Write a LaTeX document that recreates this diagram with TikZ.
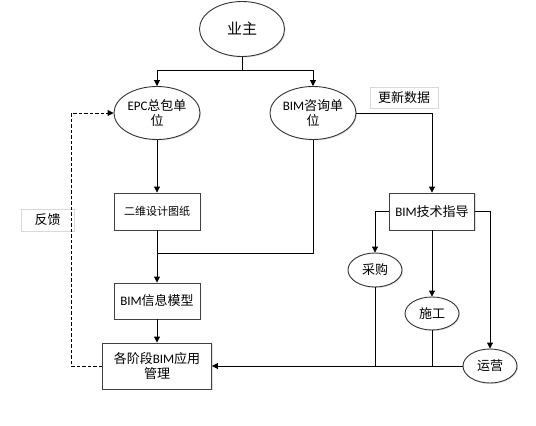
\documentclass[tikz,border=0pt]{standalone}
\usepackage{fontspec}
\setmainfont{Noto Sans CJK SC}
\newfontfamily\lat{Carlito}
\usetikzlibrary{shapes.geometric,arrows.meta,shadows}
\begin{document}
\begin{tikzpicture}[x=1pt,y=-1pt,
  line width=0.9pt,
  every node/.style={inner sep=0pt,font=\fontsize{13}{15}\selectfont,align=center},
  ell/.style={ellipse,draw=black!80,fill=white,drop shadow={shadow xshift=1pt,shadow yshift=-1pt,opacity=0.25}},
  box/.style={rectangle,draw=black!75,fill=white,drop shadow={shadow xshift=1pt,shadow yshift=-1pt,opacity=0.25}},
  lbl/.style={rectangle,draw=black!15,fill=white},
  arr/.style={-{Triangle[length=6pt,width=6pt]}},
  dsh/.style={dash pattern=on 3.5pt off 2pt}]
\useasboundingbox (0,0) rectangle (536,426);
\node[ell,minimum width=85,minimum height=55,font=\fontsize{15}{17}\selectfont] (owner) at (242,29) {业主};
\node[ell,minimum width=86,minimum height=53] (epc) at (157,113) {{\lat EPC}总包单\\位};
\node[ell,minimum width=86,minimum height=53] (bimc) at (313,113) {{\lat BIM}咨询单\\位};
\node[lbl,minimum width=68,minimum height=21] (upd) at (404,97.5) {更新数据};
\node[box,minimum width=85,minimum height=37] (tech) at (432,211.5) {{\lat BIM}技术指导};
\node[box,minimum width=86,minimum height=37,font=\fontsize{11}{13}\selectfont] (cad) at (157,211.5) {二维设计图纸};
\node[box,minimum width=86,minimum height=36] (model) at (157,301) {{\lat BIM}信息模型};
\node[box,minimum width=109,minimum height=46] (stage) at (157,366) {各阶段{\lat BIM}应用\\管理};
\node[ell,minimum width=54,minimum height=34] (buy) at (375,270) {采购};
\node[ell,minimum width=54,minimum height=33] (build) at (432,313.5) {施工};
\node[ell,minimum width=54,minimum height=34] (ops) at (490,366) {运营};
\node[lbl,minimum width=53,minimum height=22] (fb) at (47.5,220) {反馈};
% connectors
\draw (owner.south) -- ++(0,13.7) coordinate (j1);
\draw[arr] (j1) -| (epc.north);
\draw[arr] (j1) -| (bimc.north);
\draw[arr] (bimc.east) -| (tech.north);
\draw[arr] (epc.south) -- (cad.north);
\coordinate (j2) at (157,253);
\draw (bimc.south) |- (j2);
\draw[arr] (cad.south) -- (model.north);
\draw[arr] (model.south) -- (stage.north);
\draw[arr] (tech.west) -| (buy.north);
\draw[arr] (tech.south) -- (build.north);
\draw[arr] (tech.east) -| (ops.north);
\draw[arr] (ops.west) -- (stage.east);
\draw (buy.south) -- (buy.south |- stage.east);
\draw (build.south) -- (build.south |- stage.east);
\draw[arr,dsh] (stage.west) -- ++(-31,0) |- (epc.west);
\end{tikzpicture}
\end{document}
